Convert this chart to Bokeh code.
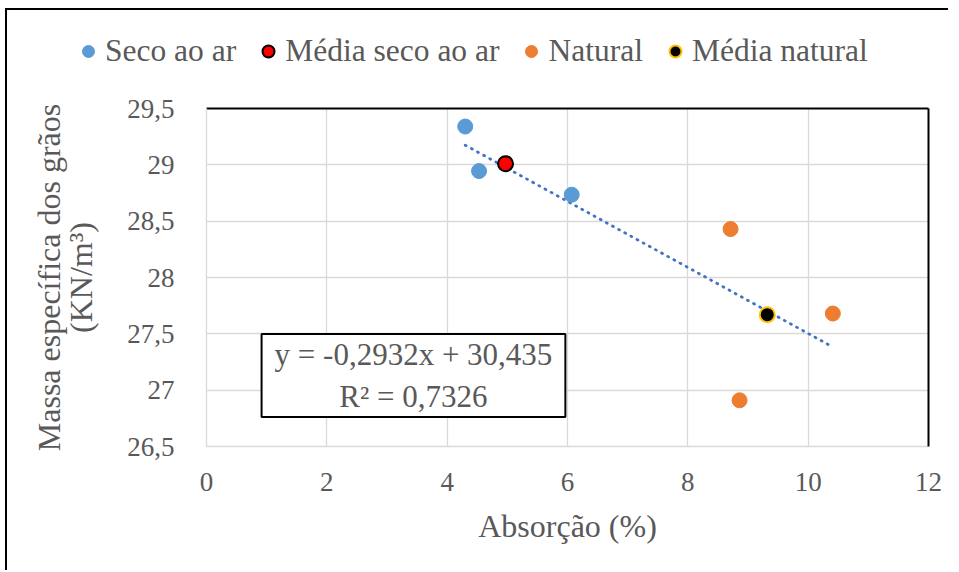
from bokeh.plotting import figure
from bokeh.models import (Legend, LegendItem, LinearAxis, FixedTicker, Label, Range1d)
from bokeh.embed import file_html
from bokeh.resources import INLINE

# ---- data ----
seco_x = [4.30, 4.53, 6.07]
seco_y = [29.34, 28.945, 28.735]
media_seco_x = [4.97]
media_seco_y = [29.01]
natural_x = [8.71, 10.41, 8.86]
natural_y = [28.43, 27.68, 26.91]
media_natural_x = [9.32]
media_natural_y = [27.67]

trend_slope = -0.2932
trend_intercept = 30.435
trend_r2 = 0.7326

x_ticks = [0, 2, 4, 6, 8, 10, 12]
y_ticks = [26.5, 27, 27.5, 28, 28.5, 29, 29.5]
y_tick_labels = ["26,5", "27", "27,5", "28", "28,5", "29", "29,5"]

legend_labels = ["Seco ao ar", "Média seco ao ar", "Natural", "Média natural"]
x_title = "Absorção (%)"
y_title = "Massa específica dos grãos\n(KN/m³)"

FONT = "Liberation Serif"
TXT = "#595959"
GRID = "#D9D9D9"
C_SECO, C_NAT, C_MS, C_MN_LINE = "#5B9BD5", "#ED7D31", "#FF0000", "#FFC000"

W = 943
H_LEG = 80
H_MAIN = 482
MB_L, MB_R, MB_T, MB_B = 199, 22, 20, 124

# ---------------- legend strip (its own root, not frame-aligned) ----------------
lf = figure(width=W, height=H_LEG, output_backend="svg", toolbar_location=None,
            x_range=Range1d(-2, -1), y_range=Range1d(-2, -1),
            x_axis_location=None, y_axis_location=None,
            min_border=0, min_border_left=0, min_border_right=0,
            min_border_top=0, min_border_bottom=0,
            styles={"border-left": "2px solid black",
                    "border-top": "2px solid black",
                    "margin-left": "5px", "margin-top": "8px"})
lf.outline_line_color = None
lf.grid.visible = False
# the series are referenced here only for their legend glyphs (out of view)
l1 = lf.scatter(seco_x, seco_y, size=15, fill_color=C_SECO, line_color=C_SECO)
l2 = lf.scatter(media_seco_x, media_seco_y, size=15, fill_color=C_MS,
                line_color="black", line_width=2)
l3 = lf.scatter(natural_x, natural_y, size=15, fill_color=C_NAT, line_color=C_NAT)
l4 = lf.scatter(media_natural_x, media_natural_y, size=15, fill_color="black",
                line_color=C_MN_LINE, line_width=2)
legend = Legend(items=[LegendItem(label=legend_labels[0], renderers=[l1], index=0),
                       LegendItem(label=legend_labels[1], renderers=[l2], index=0),
                       LegendItem(label=legend_labels[2], renderers=[l3], index=0),
                       LegendItem(label=legend_labels[3], renderers=[l4], index=0)],
                orientation="horizontal", location=(66, 21),
                glyph_width=30, glyph_height=34, label_standoff=2, spacing=17,
                padding=0, margin=0, border_line_color=None,
                background_fill_alpha=0,
                label_text_font=FONT, label_text_font_size="31.5px",
                label_text_color=TXT)
lf.add_layout(legend)

# ---------------- main chart ----------------
p = figure(width=W, height=H_MAIN, output_backend="svg", toolbar_location=None,
           x_range=Range1d(0, 12), y_range=Range1d(26.5, 29.5),
           min_border_left=MB_L, min_border_right=MB_R,
           min_border_top=MB_T, min_border_bottom=MB_B,
           styles={"border-left": "2px solid black", "margin-left": "5px"})
p.outline_line_color = None
p.background_fill_color = "white"
p.border_fill_color = "white"

p.xgrid.ticker = FixedTicker(ticks=x_ticks)
p.ygrid.ticker = FixedTicker(ticks=y_ticks)
for g in (p.xgrid, p.ygrid):
    g.grid_line_color = GRID
    g.grid_line_width = 1.3

p.xaxis.ticker = FixedTicker(ticks=x_ticks)
p.yaxis.ticker = FixedTicker(ticks=y_ticks)
p.yaxis.major_label_overrides = {t: l for t, l in zip(y_ticks, y_tick_labels)}
for ax in (p.xaxis, p.yaxis):
    ax.axis_line_color = GRID
    ax.axis_line_width = 1.3
    ax.major_tick_line_color = None
    ax.minor_tick_line_color = None
    ax.major_label_text_font = FONT
    ax.major_label_text_font_size = "27px"
    ax.major_label_text_color = TXT
    ax.axis_label_text_font = FONT
    ax.axis_label_text_font_size = "32px"
    ax.axis_label_text_font_style = "normal"
    ax.axis_label_text_color = TXT
p.yaxis.axis_label_text_line_height = 0.9
p.xaxis.axis_label = x_title
p.yaxis.axis_label = y_title
p.xaxis.major_label_standoff = 20
p.xaxis.axis_label_standoff = 14
p.yaxis.major_label_standoff = 26
p.yaxis.axis_label_standoff = 25

# black top / right frame edges
for side in ("above", "right"):
    ax = LinearAxis(ticker=FixedTicker(ticks=[]), axis_line_color="black",
                    axis_line_width=2, major_tick_line_color=None,
                    minor_tick_line_color=None, major_label_text_font_size="0px")
    p.add_layout(ax, side)

# trend line (from the displayed equation, over the data's x span)
all_x = seco_x + natural_x
tx = [min(all_x), max(all_x)]
ty = [trend_slope * v + trend_intercept for v in tx]
p.line(tx, ty, line_color="#4472C4", line_width=2.8, line_dash="1 6",
       line_cap="round")

p.scatter(seco_x, seco_y, size=15, fill_color=C_SECO, line_color=C_SECO)
p.scatter(natural_x, natural_y, size=15, fill_color=C_NAT, line_color=C_NAT)
p.scatter(media_seco_x, media_seco_y, size=15, fill_color=C_MS,
          line_color="black", line_width=2)
p.scatter(media_natural_x, media_natural_y, size=15, fill_color="black",
          line_color=C_MN_LINE, line_width=2)

def fmt(v):
    return str(v).replace(".", ",")

eq_text = "y = %sx + %s\nR² = %s" % (fmt(trend_slope), fmt(trend_intercept), fmt(trend_r2))
p.add_layout(Label(x=3.44, y=27.13, text=eq_text, text_align="center",
                   text_baseline="middle", text_font=FONT, text_font_size="31px",
                   text_color=TXT, border_line_color="black", border_line_width=2,
                   background_fill_color="white",
                   padding=dict(left=13, right=13, top=3, bottom=3)))

open("out.html", "w").write(file_html([lf, p], INLINE))
